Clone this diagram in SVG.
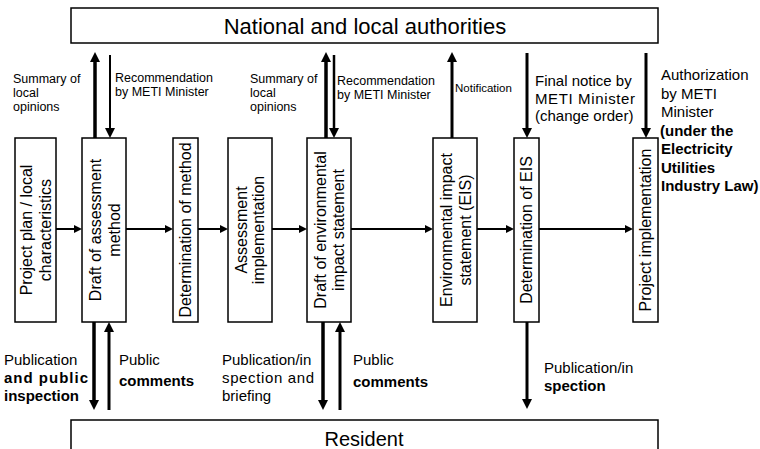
<svg xmlns="http://www.w3.org/2000/svg" width="760" height="449" viewBox="0 0 760 449">
<style>
  .box { fill: #fff; stroke: #000; stroke-width: 1.5; }
  .t { font-family: "Liberation Sans", Arial, sans-serif; fill: #000; }
  .title { font-size: 22px; text-anchor: middle; }
  .res { font-size: 20px; text-anchor: middle; }
  .bt { font-size: 16px; text-anchor: middle; }
  .sm { font-size: 12.5px; }
  .xs { font-size: 11.5px; }
  .md { font-size: 15px; }
  .b { font-weight: bold; }
  .h { stroke: #000; stroke-width: 2; fill: none; marker-end: url(#ah); }
  .v { stroke: #000; stroke-width: 3; fill: none; marker-end: url(#av); }
</style>
<defs>
  <marker id="ah" viewBox="0 0 8 8" refX="5" refY="4" markerWidth="8" markerHeight="8" orient="auto" markerUnits="userSpaceOnUse">
    <path d="M0,0 L8,4 L0,8 z" fill="#000"/>
  </marker>
  <marker id="av" viewBox="0 0 10 10" refX="6" refY="5" markerWidth="10" markerHeight="10" orient="auto" markerUnits="userSpaceOnUse">
    <path d="M0,0 L10,5 L0,10 z" fill="#000"/>
  </marker>
</defs>

<g id="authorities">
  <rect class="box" x="71" y="8" width="587" height="35"/>
  <text class="t title" x="365" y="34">National and local authorities</text>
</g>
<g id="resident">
  <rect class="box" x="71" y="420" width="587" height="40"/>
  <text class="t res" x="364" y="446">Resident</text>
</g>

<g id="n1">
  <rect class="box" x="15" y="138" width="41" height="184"/>
  <text class="t bt" transform="translate(35.5,230) rotate(-90)"><tspan x="0" y="-3.5">Project plan / local</tspan><tspan x="0" y="15.5">characteristics</tspan></text>
</g>
<g id="n2">
  <rect class="box" x="82" y="138" width="44" height="184"/>
  <text class="t bt" transform="translate(104,230) rotate(-90)"><tspan x="0" y="-3.5">Draft of assessment</tspan><tspan x="0" y="15.5">method</tspan></text>
</g>
<g id="n3">
  <rect class="box" x="173" y="138" width="25" height="184"/>
  <text class="t bt" transform="translate(185.5,230) rotate(-90)" y="5.8">Determination of method</text>
</g>
<g id="n4">
  <rect class="box" x="228" y="138" width="44" height="184"/>
  <text class="t bt" transform="translate(250,230) rotate(-90)"><tspan x="0" y="-3">Assessment</tspan><tspan x="0" y="14">implementation</tspan></text>
</g>
<g id="n5">
  <rect class="box" x="307" y="138" width="44" height="184"/>
  <text class="t bt" transform="translate(329,230) rotate(-90)"><tspan x="0" y="-3">Draft of environmental</tspan><tspan x="0" y="14.5">impact statement</tspan></text>
</g>
<g id="n6">
  <rect class="box" x="433" y="138" width="44" height="184"/>
  <text class="t bt" transform="translate(455,230) rotate(-90)"><tspan x="0" y="-3.5">Environmental impact</tspan><tspan x="0" y="15.5">statement (EIS)</tspan></text>
</g>
<g id="n7">
  <rect class="box" x="514" y="138" width="25" height="184"/>
  <text class="t bt" transform="translate(526.5,230) rotate(-90)" y="5.8">Determination of EIS</text>
</g>
<g id="n8">
  <rect class="box" x="633" y="138" width="25" height="184"/>
  <text class="t bt" transform="translate(645.5,230) rotate(-90)" y="5.8">Project implementation</text>
</g>

<g id="connectors">
  <line class="h" x1="56" y1="229" x2="79" y2="229"/>
  <line class="h" x1="126" y1="229" x2="170" y2="229"/>
  <line class="h" x1="198" y1="229" x2="225" y2="229"/>
  <line class="h" x1="272" y1="229" x2="304" y2="229"/>
  <line class="h" x1="351" y1="229" x2="430" y2="229"/>
  <line class="h" x1="477" y1="229" x2="511" y2="229"/>
  <line class="h" x1="539" y1="229" x2="630" y2="229"/>

  <line class="v" x1="95" y1="138" x2="95" y2="56" style="stroke-width:3.5"/>
  <line class="v" x1="110" y1="55" x2="110" y2="134" style="stroke-width:2"/>
  <line class="v" x1="326" y1="138" x2="326" y2="56" style="stroke-width:3.5"/>
  <line class="v" x1="334" y1="55" x2="334" y2="134" style="stroke-width:2.5"/>
  <line class="v" x1="452" y1="138" x2="452" y2="56"/>
  <line class="v" x1="527" y1="53" x2="527" y2="134"/>
  <line class="v" x1="646" y1="53" x2="646" y2="134"/>

  <line class="v" x1="94" y1="322" x2="94" y2="406" style="stroke-width:3.5"/>
  <line class="v" x1="109" y1="410" x2="109" y2="326"/>
  <line class="v" x1="323" y1="322" x2="323" y2="406" style="stroke-width:3.5"/>
  <line class="v" x1="340" y1="410" x2="340" y2="326"/>
  <line class="v" x1="527" y1="322" x2="527" y2="405"/>
</g>

<g id="labels">
  <text class="t sm" x="13" y="83">Summary of<tspan x="13" y="97">local</tspan><tspan x="13" y="111">opinions</tspan></text>
  <text class="t sm" x="115" y="82">Recommendation<tspan x="115" y="96">by METI Minister</tspan></text>
  <text class="t sm" x="250" y="83">Summary of<tspan x="250" y="97">local</tspan><tspan x="250" y="111">opinions</tspan></text>
  <text class="t sm" x="337" y="85">Recommendation<tspan x="337" y="99">by METI Minister</tspan></text>
  <text class="t xs" x="455" y="92">Notification</text>
  <text class="t md" x="535" y="86">Final notice by</text>
  <text class="t md" x="535" y="104" textLength="100" lengthAdjust="spacing">METI Minister</text>
  <text class="t md" x="535" y="121">(change order)</text>
  <text class="t md" x="661" y="80">Authorization<tspan x="661" y="98.5">by METI</tspan><tspan x="661" y="117">Minister</tspan></text>
  <text class="t md b" x="660" y="135.5">(under the<tspan x="661" y="154">Electricity</tspan><tspan x="661" y="172.5">Utilities</tspan><tspan x="661" y="191">Industry Law)</tspan></text>

  <text class="t md" x="4" y="365">Publication</text>
  <text class="t md b" x="4" y="383" textLength="84" lengthAdjust="spacing">and public</text>
  <text class="t md b" x="4" y="401">inspection</text>
  <text class="t md" x="119" y="365">Public</text>
  <text class="t md b" x="119" y="386">comments</text>
  <text class="t md" x="222" y="365">Publication/in</text>
  <text class="t md" x="222" y="383" textLength="92" lengthAdjust="spacing">spection and</text>
  <text class="t md" x="222" y="401">briefing</text>
  <text class="t md" x="353" y="365">Public</text>
  <text class="t md b" x="353" y="387">comments</text>
  <text class="t md" x="544" y="373">Publication/in</text>
  <text class="t md b" x="544" y="391">spection</text>
</g>
</svg>
